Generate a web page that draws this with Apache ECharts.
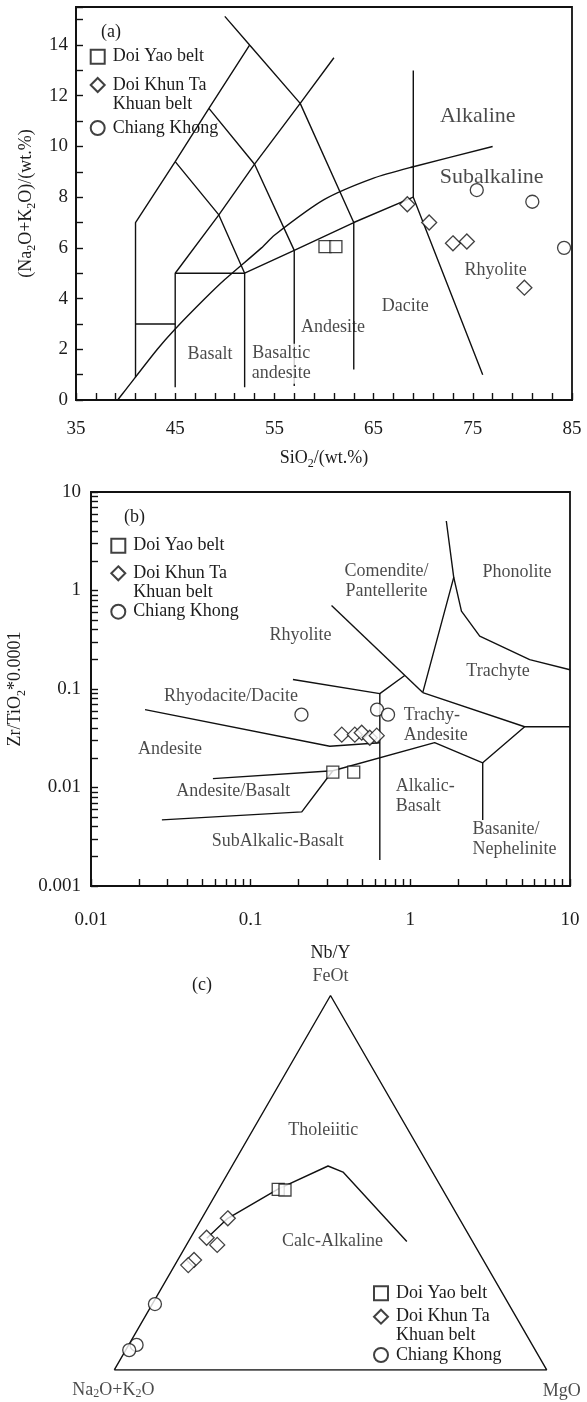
<!DOCTYPE html>
<html>
<head>
<meta charset="utf-8">
<title>Geochemical classification diagrams</title>
<script src="https://cdn.jsdelivr.net/npm/echarts@6.0.0/dist/echarts.min.js"></script>
<style>
html,body{margin:0;padding:0;background:#fff;}
#chart{width:587px;height:1402px;}
</style>
</head>
<body>
<div id="chart"></div>
<script>
// ================= DATA =================
const seriesNames = ['Doi Yao belt', 'Doi Khun Ta Khuan belt', 'Chiang Khong'];
const legendLabels = ['Doi Yao belt', 'Doi Khun Ta\nKhuan belt', 'Chiang Khong'];

// (a) TAS: [SiO2 wt.%, Na2O+K2O wt.%]
const tasDoiYao = [[60.1, 6.05], [61.2, 6.05]];
const tasDoiKhun = [[68.4, 7.72], [70.6, 7.0], [73.0, 6.18], [74.4, 6.25], [80.2, 4.43]];
const tasChiang = [[75.4, 8.28], [81.0, 7.82], [84.2, 6.0]];
const tasXLabels = [35, 45, 55, 65, 75, 85];
const tasYLabels = [0, 2, 4, 6, 8, 10, 12, 14];

// (b) Nb/Y vs Zr/TiO2*0.0001
const wfDoiYao = [[0.327, 0.0143], [0.442, 0.0143]];
const wfDoiKhun = [[0.372, 0.0344], [0.449, 0.0344], [0.496, 0.036], [0.557, 0.032], [0.616, 0.0336]];
const wfChiang = [[0.208, 0.0549], [0.619, 0.0617], [0.725, 0.0549]];
const wfXLabels = ['0.01', '0.1', '1', '10'];
const wfYLabels = ['0.001', '0.01', '0.1', '1', '10'];

// (c) AFM: [Na2O+K2O, FeOt, MgO] (fractions)
const afmDoiYao = [[0.380, 0.4825, 0.138], [0.365, 0.4806, 0.1545]];
const afmDoiKhun = [[0.535, 0.405, 0.060], [0.610, 0.353, 0.037], [0.595, 0.334, 0.071], [0.669, 0.294, 0.0375], [0.689, 0.280, 0.031]];
const afmChiang = [[0.818, 0.176, 0.006], [0.915, 0.067, 0.018], [0.939, 0.053, 0.008]];

// ---- classification boundaries ----
const tasLines = [
  [[41, 0.9], [41, 7], [45, 9.4], [48.4, 11.5], [52.5, 14]],
  [[41, 3], [45, 3]],
  [[45, 0.5], [45, 5], [52, 5], [52, 0.5]],
  [[45, 5], [49.4, 7.3], [53, 9.3], [57.6, 11.7], [61, 13.5]],
  [[45, 9.4], [49.4, 7.3], [52, 5]],
  [[48.4, 11.5], [53, 9.3], [57, 5.9]],
  [[50, 15.13], [52.5, 14], [57.6, 11.7], [63, 7]],
  [[52, 5], [57, 5.9], [63, 7], [69, 8]],
  [[57, 0.55], [57, 5.9]],
  [[63, 1.2], [63, 7]],
  [[69, 13], [69, 8], [76, 1]]
];
const tasAlkalineCurve = [[39.2, 0], [40, 0.4], [43.2, 2], [45, 2.8], [48, 4], [50, 4.75], [53.7, 6], [55, 6.5], [60, 7.9], [65, 8.75], [69, 9.2], [77, 10]];

const wfLines = [
  [[0.0218, 0.0617], [0.313, 0.0262], [0.644, 0.0285]],
  [[0.184, 0.125], [0.644, 0.0898], [0.922, 0.137]],
  [[0.644, 0.0898], [0.644, 0.00184]],
  [[0.321, 0.705], [1.196, 0.0919]],
  [[1.196, 0.0919], [1.87, 1.36], [1.68, 5.08]],
  [[1.87, 1.36], [2.09, 0.617], [2.72, 0.344], [5.59, 0.199], [10, 0.157]],
  [[1.196, 0.0919], [5.2, 0.0414], [10, 0.0414]],
  [[5.2, 0.0414], [2.84, 0.0178], [1.42, 0.0285], [0.327, 0.0148], [0.209, 0.00566], [0.0278, 0.00469]],
  [[2.84, 0.0178], [2.84, 0.00469]],
  [[0.058, 0.0123], [0.327, 0.0148]]
];

const afmTriangle = [[1, 0, 0], [0, 1, 0], [0, 0, 1], [1, 0, 0]];
const afmCurve = [[0.61, 0.352, 0.038], [0.535, 0.405, 0.06], [0.38, 0.4833, 0.137], [0.2334, 0.5447, 0.2219], [0.207, 0.529, 0.265], [0.152, 0.343, 0.505]];

// ---- field / axis annotations ----
const tasFieldLabels = [
  {t: 'Alkaline', x: 75.5, y: 11.2, size: 22},
  {t: 'Subalkaline', x: 76.9, y: 8.8, size: 22},
  {t: 'Rhyolite', x: 77.3, y: 5.1},
  {t: 'Dacite', x: 68.2, y: 3.7},
  {t: 'Andesite', x: 60.9, y: 2.85},
  {t: 'Basaltic\nandesite', x: 55.7, y: 1.43, bg: '#fff'},
  {t: 'Basalt', x: 48.5, y: 1.8}
];
const wfFieldLabels = [
  {t: 'Comendite/\nPantellerite', x: 0.709, y: 1.246},
  {t: 'Phonolite', x: 4.65, y: 1.52},
  {t: 'Rhyolite', x: 0.205, y: 0.349},
  {t: 'Trachyte', x: 3.54, y: 0.151},
  {t: 'Rhyodacite/Dacite', x: 0.0752, y: 0.0837},
  {t: 'Andesite', x: 0.0312, y: 0.0242},
  {t: 'Trachy-\nAndesite', x: 0.909, y: 0.0426, align: 'left'},
  {t: 'Andesite/Basalt', x: 0.0777, y: 0.00926},
  {t: 'Alkalic-\nBasalt', x: 0.81, y: 0.0081, align: 'left'},
  {t: 'SubAlkalic-Basalt', x: 0.148, y: 0.00282},
  {t: 'Basanite/\nNephelinite', x: 2.45, y: 0.003, align: 'left'}
];
const afmFieldLabels = [
  {t: 'FeOt', x: 0.5, y: 0.9095},
  {t: 'Na{s|2}O+K{s|2}O', x: -0.002, y: -0.046},
  {t: 'MgO', x: 1.035, y: -0.05},
  {t: 'Tholeiitic', x: 0.483, y: 0.555},
  {t: 'Calc-Alkaline', x: 0.5046, y: 0.2967}
];

// ================= STYLE / BUILD =================
const FONT = 'Liberation Serif';
const TXT = '#1c1c1c';
const INK = '#111';
const SYMBOLS = ['rect', 'diamond', 'circle'];
const RICH = {
  s: {fontSize: 12, fontFamily: FONT, color: TXT, verticalAlign: 'bottom', lineHeight: 12}
};

function logTicks(decades, last) {
  const out = [];
  decades.forEach(d => { for (let k = 1; k <= 9; k++) out.push(+(d * k).toPrecision(6)); });
  out.push(last);
  return out;
}
const fmtLog = (labels) => (v) => {
  const s = String(+(+v).toPrecision(6));
  return labels.indexOf(s) >= 0 ? s : '';
};
const toXY = p => {
  const s = p[0] + p[1] + p[2];
  const f = p[1] / s, m = p[2] / s;
  return [m + f / 2, f * Math.sqrt(3) / 2];
};

function lineSeries(lines, gi, smooth) {
  return lines.map(pts => ({
    type: 'line', xAxisIndex: gi, yAxisIndex: gi, data: pts,
    symbol: 'none', silent: true, smooth: smooth || false, z: 2,
    lineStyle: {color: INK, width: 1.4}
  }));
}
function markerSeries(sets, gi, sizes) {
  return sets.map((d, i) => ({
    type: 'scatter', name: seriesNames[i], xAxisIndex: gi, yAxisIndex: gi, data: d,
    symbol: SYMBOLS[i], symbolSize: sizes[i], z: 5, clip: false,
    itemStyle: {color: '#fff', borderColor: INK, borderWidth: 1.3}
  }));
}
function labelSeries(annots, gi) {
  return {
    type: 'scatter', xAxisIndex: gi, yAxisIndex: gi, symbolSize: 0, silent: true, clip: false, z: 4,
    itemStyle: {color: 'transparent'},
    data: annots.map(a => ({
      value: [a.x, a.y],
      label: {
        show: true, position: 'inside', formatter: () => a.t,
        fontFamily: FONT, fontSize: a.size || 18, color: TXT,
        align: a.align || 'center', verticalAlign: 'middle', lineHeight: 20,
        backgroundColor: a.bg || 'transparent', rich: RICH
      }
    }))
  };
}
// Legend: rich text keeps the marker level with the first text line of the two-line entry
function makeLegend(left, top, gap, tailPad) {
  return {
    orient: 'vertical', left: left, top: top, padding: 0, itemGap: gap,
    itemWidth: 14, itemHeight: 14,
    textStyle: {
      fontFamily: FONT, fontSize: 18, color: TXT, lineHeight: 19, padding: [0, 0, 0, 3],
      rich: {
        a: {fontFamily: FONT, fontSize: 18, color: TXT, lineHeight: 19},
        e: {fontSize: 12, lineHeight: 19},
        f: {fontSize: 2, lineHeight: tailPad}
      }
    },
    data: seriesNames.slice(),
    formatter: n => {
      const i = seriesNames.indexOf(n);
      const parts = legendLabels[i].split('\n').map(p => '{a|' + p + '}');
      if (i === 1) return '{e| }\n' + parts.join('\n');
      if (i === 2) return '{f| }\n' + parts.join('\n') + '\n{f| }';
      return parts.join('\n');
    }
  };
}
const tickStyle = {show: true, inside: true, length: 7, lineStyle: {color: INK, width: 1.4}};
const axisLineStyle = {show: true, lineStyle: {color: INK, width: 1.8}};
const labelStyle = {fontFamily: FONT, fontSize: 19, color: TXT};
const nameStyle = {fontFamily: FONT, fontSize: 18, color: TXT, lineHeight: 24, rich: RICH};

const option = {
  animation: false,
  backgroundColor: '#fff',
  title: [
    {text: '(a)', left: 101, top: 23, padding: 0, textStyle: {fontFamily: FONT, fontSize: 18, fontWeight: 'normal', color: TXT}},
    {text: '(b)', left: 124, top: 508, padding: 0, textStyle: {fontFamily: FONT, fontSize: 18, fontWeight: 'normal', color: TXT}},
    {text: '(c)', left: 192, top: 976, padding: 0, textStyle: {fontFamily: FONT, fontSize: 18, fontWeight: 'normal', color: TXT}}
  ],
  legend: [makeLegend(89.7, 47.2, -9.7, 14.7), makeLegend(110.3, 536.2, -10.4, 10.8), makeLegend(373, 1283.8, -14.6, 14.9)],
  grid: [
    {left: 76, top: 7, width: 496, height: 393, show: true, borderColor: INK, borderWidth: 1.8, outerBoundsMode: 'none'},
    {left: 91, top: 492, width: 479, height: 394, show: true, borderColor: INK, borderWidth: 1.8, outerBoundsMode: 'none'},
    {left: 114.3, top: 995.5, width: 432.4, height: 432.4 * Math.sqrt(3) / 2, show: false, outerBoundsMode: 'none'}
  ],
  xAxis: [
    {
      type: 'value', gridIndex: 0, min: 35, max: 85, interval: 2,
      axisLine: axisLineStyle, axisTick: tickStyle, splitLine: {show: false},
      axisLabel: Object.assign({margin: 20, formatter: v => tasXLabels.indexOf(v) >= 0 ? String(v) : ''}, labelStyle),
      name: 'SiO{s|2}/(wt.%)', nameLocation: 'middle', nameGap: 46, nameTextStyle: nameStyle
    },
    {
      type: 'log', logBase: 10, gridIndex: 1, min: 0.01, max: 10,
      axisLine: axisLineStyle, splitLine: {show: false},
      axisTick: Object.assign({customValues: logTicks([0.01, 0.1, 1], 10)}, tickStyle),
      axisLabel: Object.assign({margin: 25, customValues: [0.01, 0.1, 1, 10], formatter: fmtLog(wfXLabels)}, labelStyle),
      name: 'Nb/Y', nameLocation: 'middle', nameGap: 55, nameTextStyle: nameStyle
    },
    {type: 'value', gridIndex: 2, min: 0, max: 1, show: false}
  ],
  yAxis: [
    {
      type: 'value', gridIndex: 0, min: 0, max: 15.5, interval: 1,
      axisLine: axisLineStyle, axisTick: tickStyle, splitLine: {show: false},
      axisLabel: Object.assign({margin: 8, formatter: v => tasYLabels.indexOf(v) >= 0 ? String(v) : ''}, labelStyle),
      name: '(Na{s|2}O+K{s|2}O)/(wt.%)', nameLocation: 'middle', nameGap: 38, nameRotate: 90, nameTextStyle: nameStyle
    },
    {
      type: 'log', logBase: 10, gridIndex: 1, min: 0.001, max: 10,
      axisLine: axisLineStyle, splitLine: {show: false},
      axisTick: Object.assign({customValues: logTicks([0.001, 0.01, 0.1, 1], 10)}, tickStyle),
      axisLabel: Object.assign({margin: 10, customValues: [0.001, 0.01, 0.1, 1, 10], formatter: fmtLog(wfYLabels)}, labelStyle),
      name: 'Zr/TiO{s|2}*0.0001', nameLocation: 'middle', nameGap: 61, nameRotate: 90, nameTextStyle: nameStyle
    },
    {type: 'value', gridIndex: 2, min: 0, max: Math.sqrt(3) / 2, show: false}
  ],
  series: [].concat(
    lineSeries(tasLines, 0),
    lineSeries([tasAlkalineCurve], 0, 0.25),
    [labelSeries(tasFieldLabels, 0)],
    markerSeries([tasDoiYao, tasDoiKhun, tasChiang], 0, [12, 15, 13]),
    lineSeries(wfLines, 1),
    [labelSeries(wfFieldLabels, 1)],
    markerSeries([wfDoiYao, wfDoiKhun, wfChiang], 1, [12, 15, 13]),
    lineSeries([afmTriangle.map(toXY)], 2),
    lineSeries([afmCurve.map(toXY)], 2),
    [labelSeries(afmFieldLabels, 2)],
    markerSeries([afmDoiYao.map(toXY), afmDoiKhun.map(toXY), afmChiang.map(toXY)], 2, [12, 15, 13])
  )
};

const chart = echarts.init(document.getElementById('chart'), null, {renderer: 'canvas'});
chart.setOption(option);
</script>
</body>
</html>
